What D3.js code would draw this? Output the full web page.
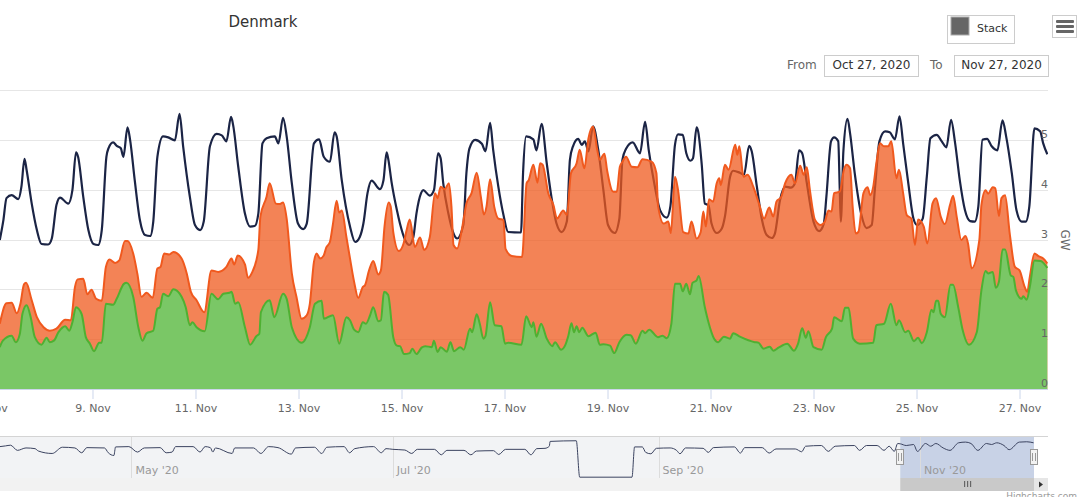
<!DOCTYPE html>
<html>
<head>
<meta charset="UTF-8">
<title>Denmark</title>
<script src="https://cdnjs.cloudflare.com/ajax/libs/d3/7.8.5/d3.min.js"></script>
<style>
html,body{margin:0;padding:0;background:#fff;overflow:hidden}
text{font-family:"DejaVu Sans",sans-serif;font-size:11px;fill:#666}
.grid line{stroke:#e6e6e6}
</style>
</head>
<body>
<div id="chart"></div>
<script>
// [day of November, GW]
var consumption=[[7.20,2.99],[7.27,3.39],[7.33,3.83],[7.43,3.89],[7.56,3.81],[7.62,4.06],[7.68,4.62],[7.72,4.40],[7.82,3.72],[7.92,3.19],[8.01,2.91],[8.14,2.90],[8.21,3.02],[8.30,3.69],[8.37,3.84],[8.53,3.72],[8.61,3.99],[8.68,4.75],[8.72,4.66],[8.82,3.86],[8.92,3.19],[9.02,2.91],[9.11,2.89],[9.18,3.19],[9.27,4.66],[9.31,4.83],[9.40,4.95],[9.47,4.88],[9.55,4.83],[9.60,4.66],[9.68,5.25],[9.73,5.00],[9.82,4.19],[9.92,3.39],[10.02,3.09],[10.12,3.07],[10.18,3.36],[10.26,4.66],[10.37,5.07],[10.47,5.05],[10.60,4.99],[10.69,5.52],[10.76,4.87],[10.89,3.86],[10.99,3.29],[11.09,3.19],[11.16,3.36],[11.28,4.87],[11.41,5.12],[11.51,5.09],[11.60,4.97],[11.69,5.46],[11.73,5.30],[11.83,4.46],[11.96,3.52],[12.06,3.26],[12.15,3.27],[12.22,3.52],[12.30,4.93],[12.38,5.03],[12.54,5.07],[12.61,4.93],[12.70,5.44],[12.77,5.07],[12.87,4.13],[12.99,3.32],[13.09,3.21],[13.16,3.32],[13.30,4.93],[13.40,5.01],[13.49,4.66],[13.61,4.56],[13.70,5.15],[13.74,5.07],[13.84,4.19],[14.00,3.26],[14.10,2.95],[14.19,3.05],[14.26,3.32],[14.34,3.93],[14.42,4.18],[14.58,4.01],[14.65,4.19],[14.71,4.75],[14.74,4.63],[14.81,4.13],[14.91,3.59],[14.97,3.32],[15.07,2.99],[15.15,2.89],[15.23,3.05],[15.29,3.52],[15.38,3.93],[15.42,3.99],[15.55,3.88],[15.63,3.99],[15.71,4.73],[15.76,4.63],[15.81,4.13],[15.91,3.52],[16.01,3.12],[16.08,3.02],[16.20,3.29],[16.26,4.33],[16.32,4.83],[16.43,5.00],[16.56,4.92],[16.63,4.77],[16.72,5.34],[16.78,4.80],[16.88,4.06],[16.98,3.49],[17.07,3.15],[17.32,3.14],[17.36,4.33],[17.42,5.07],[17.56,5.01],[17.62,4.79],[17.72,5.32],[17.82,4.53],[17.91,3.86],[18.01,3.32],[18.11,3.15],[18.21,3.36],[18.27,4.60],[18.33,4.87],[18.43,5.02],[18.50,4.90],[18.56,4.97],[18.63,4.77],[18.72,5.27],[18.82,4.80],[18.92,3.99],[19.01,3.29],[19.14,3.13],[19.23,3.42],[19.29,4.60],[19.36,4.82],[19.49,4.95],[19.63,4.73],[19.73,5.36],[19.80,4.80],[19.92,4.06],[20.02,3.59],[20.15,3.44],[20.22,3.66],[20.31,4.90],[20.37,5.11],[20.46,5.10],[20.53,4.73],[20.61,4.58],[20.66,4.63],[20.73,5.25],[20.76,5.17],[20.83,4.50],[20.89,3.72],[20.96,3.69],[21.02,3.32],[21.12,3.13],[21.22,3.22],[21.28,3.46],[21.38,4.26],[21.44,4.38],[21.57,4.34],[21.65,4.30],[21.75,4.88],[21.80,4.77],[21.90,4.06],[22.00,3.39],[22.09,3.09],[22.19,3.03],[22.25,3.12],[22.35,3.79],[22.45,4.06],[22.56,4.04],[22.64,4.13],[22.72,4.79],[22.78,4.73],[22.87,4.13],[23.00,3.36],[23.11,3.17],[23.20,3.32],[23.25,3.86],[23.34,4.97],[23.40,5.05],[23.48,4.97],[23.51,3.99],[23.53,3.36],[23.58,4.77],[23.66,5.42],[23.71,5.13],[23.80,4.33],[23.93,3.49],[24.03,3.23],[24.13,3.29],[24.19,3.99],[24.28,4.97],[24.39,5.17],[24.48,5.15],[24.58,5.01],[24.67,5.47],[24.74,4.93],[24.84,4.13],[24.94,3.42],[25.01,3.29],[25.12,3.42],[25.20,4.26],[25.27,5.03],[25.39,5.10],[25.49,4.97],[25.58,4.85],[25.67,5.40],[25.75,4.93],[25.84,4.19],[25.94,3.59],[26.04,3.37],[26.13,3.36],[26.20,3.66],[26.28,5.00],[26.37,5.02],[26.46,4.87],[26.57,4.79],[26.67,5.39],[26.74,5.07],[26.85,4.33],[26.94,3.59],[27.04,3.36],[27.12,3.36],[27.19,3.66],[27.29,5.23],[27.40,5.17],[27.46,4.93],[27.54,4.71]];

var total=[[7.20,1.31],[7.33,1.72],[7.43,1.73],[7.53,1.52],[7.60,1.71],[7.67,2.10],[7.71,2.13],[7.82,1.78],[7.92,1.44],[8.05,1.24],[8.17,1.17],[8.30,1.21],[8.47,1.39],[8.58,1.38],[8.66,2.05],[8.71,2.20],[8.82,2.21],[8.90,1.90],[8.98,1.99],[9.07,1.81],[9.18,1.77],[9.26,2.45],[9.33,2.60],[9.44,2.53],[9.52,2.58],[9.63,2.97],[9.68,2.97],[9.79,2.72],[9.87,2.32],[9.95,1.85],[10.05,1.93],[10.17,1.83],[10.26,2.42],[10.32,2.45],[10.39,2.72],[10.49,2.70],[10.57,2.75],[10.73,2.62],[10.83,2.32],[10.91,1.95],[11.02,1.78],[11.17,1.54],[11.31,2.38],[11.44,2.35],[11.60,2.45],[11.70,2.62],[11.75,2.50],[11.82,2.68],[11.96,2.50],[12.02,2.23],[12.09,2.32],[12.22,2.79],[12.26,3.46],[12.38,3.86],[12.44,4.13],[12.56,3.72],[12.63,3.71],[12.70,3.74],[12.77,3.42],[12.87,2.32],[12.96,1.85],[13.06,1.41],[13.16,1.48],[13.22,1.71],[13.30,2.55],[13.35,2.72],[13.42,2.62],[13.49,2.68],[13.54,2.84],[13.61,2.95],[13.67,3.32],[13.74,3.78],[13.79,3.54],[13.84,3.58],[13.93,3.05],[14.00,2.62],[14.08,2.15],[14.16,1.83],[14.25,2.05],[14.29,2.08],[14.37,2.38],[14.45,2.57],[14.55,2.30],[14.60,2.38],[14.67,3.26],[14.75,3.74],[14.79,3.66],[14.84,3.15],[14.95,2.77],[15.04,2.92],[15.10,3.19],[15.16,3.40],[15.26,2.85],[15.36,3.04],[15.44,2.79],[15.55,3.05],[15.65,3.93],[15.70,3.83],[15.76,4.06],[15.84,4.01],[15.92,4.13],[15.97,3.66],[16.01,2.89],[16.08,2.82],[16.17,3.19],[16.26,3.72],[16.36,3.93],[16.46,4.34],[16.54,3.86],[16.60,3.50],[16.65,3.66],[16.72,4.21],[16.80,3.66],[16.88,3.42],[16.98,3.39],[17.02,2.81],[17.14,2.67],[17.34,2.65],[17.43,4.13],[17.47,4.19],[17.56,4.50],[17.64,4.14],[17.69,4.53],[17.74,4.50],[17.85,3.93],[17.95,3.69],[18.02,3.42],[18.14,3.58],[18.21,3.49],[18.29,4.33],[18.40,4.53],[18.46,4.80],[18.55,4.43],[18.63,5.03],[18.72,5.27],[18.80,4.80],[18.85,4.60],[18.94,4.72],[18.99,4.40],[19.11,3.96],[19.18,3.96],[19.24,4.46],[19.29,4.56],[19.36,4.66],[19.47,4.46],[19.58,4.45],[19.68,4.61],[19.86,4.56],[19.95,4.33],[19.98,3.69],[20.09,3.32],[20.18,3.36],[20.23,3.13],[20.31,4.26],[20.37,3.99],[20.47,3.15],[20.57,3.12],[20.63,3.36],[20.73,3.02],[20.81,3.15],[20.86,3.56],[20.91,3.26],[20.97,3.81],[21.05,3.76],[21.12,4.13],[21.17,4.23],[21.20,4.09],[21.28,4.50],[21.35,4.40],[21.48,4.90],[21.52,4.70],[21.56,4.87],[21.64,4.26],[21.72,4.30],[21.83,4.06],[21.95,3.69],[22.04,3.42],[22.14,3.64],[22.22,3.46],[22.28,3.76],[22.37,3.85],[22.45,4.13],[22.57,4.30],[22.64,4.13],[22.74,4.48],[22.81,4.30],[22.87,4.45],[22.93,3.99],[23.03,3.39],[23.14,3.29],[23.22,3.36],[23.29,3.58],[23.35,3.56],[23.40,3.93],[23.51,3.96],[23.59,4.40],[23.64,4.50],[23.71,4.43],[23.76,3.66],[23.82,3.12],[23.87,3.15],[23.97,3.93],[24.05,4.05],[24.10,3.89],[24.16,4.06],[24.22,4.53],[24.29,4.93],[24.37,4.87],[24.45,4.87],[24.51,4.97],[24.61,4.23],[24.66,4.40],[24.74,3.93],[24.81,3.49],[24.90,3.42],[24.97,2.89],[25.03,3.40],[25.14,3.26],[25.21,2.92],[25.31,3.72],[25.38,3.83],[25.47,3.46],[25.55,3.31],[25.65,3.69],[25.71,3.88],[25.78,3.46],[25.87,2.99],[25.95,3.07],[26.00,2.92],[26.07,2.42],[26.22,2.99],[26.26,3.69],[26.34,3.99],[26.39,3.92],[26.48,4.05],[26.53,4.03],[26.60,3.47],[26.65,3.83],[26.72,3.89],[26.81,3.12],[26.91,2.45],[27.00,2.38],[27.10,2.05],[27.15,1.95],[27.20,2.25],[27.29,2.72],[27.36,2.67],[27.46,2.62],[27.54,2.52]];

var wind=[[7.20,0.84],[7.26,0.97],[7.43,1.07],[7.51,0.94],[7.59,1.11],[7.64,1.51],[7.72,1.68],[7.80,1.44],[7.88,1.04],[8.01,0.89],[8.11,1.03],[8.17,0.94],[8.25,0.97],[8.34,1.14],[8.47,1.26],[8.55,1.17],[8.61,1.34],[8.68,1.64],[8.79,1.50],[8.87,1.04],[8.95,0.91],[9.03,0.76],[9.13,0.93],[9.18,0.93],[9.26,1.71],[9.40,1.69],[9.47,1.81],[9.61,2.11],[9.66,2.13],[9.79,1.85],[9.89,1.24],[9.97,0.97],[10.05,1.12],[10.18,1.17],[10.26,1.61],[10.31,1.64],[10.37,1.91],[10.47,1.86],[10.57,2.00],[10.73,1.85],[10.81,1.64],[10.89,1.28],[10.94,1.34],[11.02,1.24],[11.18,1.16],[11.31,1.91],[11.44,1.80],[11.54,1.91],[11.66,1.93],[11.70,1.95],[11.77,1.71],[11.83,1.74],[11.96,1.24],[12.06,0.89],[12.19,1.07],[12.24,1.11],[12.27,1.54],[12.44,1.78],[12.53,1.44],[12.70,1.91],[12.77,1.81],[12.87,1.24],[13.06,0.93],[13.22,1.24],[13.32,1.71],[13.45,1.77],[13.49,1.41],[13.67,1.48],[13.79,0.91],[13.93,1.44],[14.00,1.38],[14.08,1.19],[14.16,1.14],[14.25,1.34],[14.31,1.31],[14.39,1.48],[14.45,1.64],[14.55,1.36],[14.60,1.38],[14.66,1.95],[14.74,1.89],[14.84,1.04],[14.91,0.87],[14.97,0.86],[15.05,0.70],[15.16,0.72],[15.21,0.81],[15.29,0.70],[15.39,0.83],[15.46,0.86],[15.59,0.84],[15.63,0.97],[15.70,0.74],[15.76,0.84],[15.88,0.75],[15.95,0.94],[16.02,0.76],[16.14,0.84],[16.21,0.79],[16.33,1.21],[16.37,1.14],[16.46,1.50],[16.52,1.31],[16.59,1.01],[16.63,1.06],[16.72,1.74],[16.81,1.28],[16.94,1.26],[17.01,0.91],[17.07,0.93],[17.33,0.89],[17.42,1.46],[17.53,1.24],[17.56,1.34],[17.62,1.05],[17.71,1.31],[17.82,1.01],[17.93,0.86],[17.98,0.94],[18.10,0.79],[18.17,0.86],[18.24,1.07],[18.30,1.32],[18.35,1.14],[18.40,1.26],[18.45,1.14],[18.51,1.23],[18.63,1.06],[18.77,1.13],[18.85,0.89],[18.92,0.90],[19.05,0.87],[19.13,0.72],[19.23,0.94],[19.37,1.09],[19.45,1.08],[19.55,0.91],[19.68,1.17],[19.73,1.12],[19.81,1.19],[19.98,1.04],[20.07,1.07],[20.15,1.02],[20.24,1.31],[20.31,2.11],[20.41,2.11],[20.46,1.96],[20.53,2.11],[20.60,1.90],[20.65,2.13],[20.73,2.18],[20.77,2.27],[20.89,1.64],[20.96,1.34],[21.07,1.01],[21.15,0.94],[21.26,1.05],[21.38,1.01],[21.44,1.12],[21.57,1.05],[21.86,0.94],[21.93,0.93],[22.03,0.81],[22.15,0.85],[22.22,0.77],[22.32,0.83],[22.49,0.91],[22.62,0.77],[22.70,0.91],[22.78,1.22],[22.85,1.03],[22.90,1.16],[23.00,0.84],[23.16,0.79],[23.24,1.04],[23.36,1.21],[23.40,1.44],[23.55,1.36],[23.61,1.63],[23.68,1.63],[23.77,1.01],[23.90,0.91],[24.16,0.93],[24.22,1.28],[24.37,1.31],[24.50,1.71],[24.61,1.28],[24.66,1.38],[24.78,1.14],[24.84,1.17],[24.95,0.96],[25.03,1.03],[25.10,0.92],[25.20,1.14],[25.29,1.59],[25.33,1.54],[25.38,1.77],[25.42,1.77],[25.47,1.51],[25.55,1.44],[25.66,2.09],[25.71,2.09],[25.81,1.64],[25.89,1.21],[26.02,0.89],[26.17,1.14],[26.26,1.98],[26.34,2.37],[26.39,2.32],[26.48,2.35],[26.54,2.03],[26.60,2.15],[26.67,2.80],[26.72,2.80],[26.83,2.28],[26.88,2.25],[26.93,1.98],[27.04,1.81],[27.07,1.86],[27.14,1.79],[27.20,2.05],[27.29,2.58],[27.41,2.57],[27.54,2.43]];

// navigator overview, [days after 1 May 2020, GW]
var overview=[[-30.7,4.86],[-29.4,4.97],[-28.2,5.08],[-26.6,4.27],[-24.6,4.65],[-22.5,4.54],[-21.7,4.16],[-18.5,3.78],[-16.1,4.76],[-13.2,4.65],[-11.6,3.89],[-10.4,4.70],[-6.3,4.65],[-5.4,3.89],[-4.1,3.46],[-3.7,4.81],[-0.6,4.86],[1.4,4.00],[3.0,4.65],[6.7,4.70],[8.1,3.89],[9.5,4.00],[10.3,4.86],[14.4,4.86],[16.0,4.00],[17.2,4.86],[18.4,4.70],[19.0,4.00],[19.6,4.65],[23.5,3.78],[24.1,4.65],[28.5,4.65],[30.2,3.78],[32.0,4.86],[34.2,4.70],[37.3,3.68],[38.3,4.65],[42.7,4.76],[44.4,3.78],[45.6,4.76],[49.6,4.86],[50.9,3.89],[52.1,4.54],[56.5,4.86],[58.3,3.89],[59.4,4.54],[61,4.43],[63.8,4.32],[65.4,3.78],[66.7,4.43],[70.7,4.43],[72.3,3.57],[73.6,4.27],[77.6,4.27],[79.2,3.57],[80.5,4.16],[84.5,4.22],[85.7,3.62],[87.3,4.43],[91.8,4.43],[93.2,3.57],[94.6,4.54],[96.5,4.59],[97.5,4.92],[97.7,5.68],[103.8,5.78],[104.6,0.05],[116.8,0.05],[117.4,4.81],[119.2,4.81],[120,3.95],[121.2,3.73],[122.5,4.59],[125.7,4.65],[127.2,4.27],[128,3.73],[129.3,4.65],[133.4,4.59],[134.6,3.95],[135.8,4.70],[140.7,4.81],[142.1,3.84],[143.1,4.70],[147.2,4.70],[148.8,3.84],[150.4,4.49],[154.9,4.49],[156.4,4.05],[157.3,4.92],[161,5.03],[162.6,4.11],[164.2,4.92],[168.7,5.03],[169.9,4.27],[171.5,5.03],[174,5.03],[175.6,4.27],[176.8,4.92],[178,4.11],[178.8,5.35],[179.4,5.30],[180.8,5.03],[182.5,5.19],[183.4,4.11],[185.3,5.35],[186.5,4.92],[187.7,5.35],[189.4,4.65],[191,4.27],[193,5.46],[194.6,5.57],[195.9,5.35],[197.5,4.27],[199.5,5.35],[200.7,5.19],[201.9,5.46],[203.6,5.03],[204.8,4.38],[207.2,5.57],[208.9,5.62],[210.5,5.46]];

var dayTicks=[7,9,11,13,15,17,19,21,23,25,27];
var gwTicks=[0,1,2,3,4,5,6];
var navTickDays=[0,61,123,184];
var navTickLabels=["May '20","Jul '20","Sep '20","Nov '20"];

var W=1090,H=497;
var svg=d3.select("#chart").append("svg").attr("width",W).attr("height",H).style("display","block");

var x=d3.scaleLinear().domain([7.204,27.553]).range([0,1048]);
var y=d3.scaleLinear().domain([0,6]).range([389,90]);

// grid + axes
var grid=svg.append("g").attr("class","grid");
grid.selectAll("line").data(gwTicks).enter().append("line")
  .attr("x1",0).attr("x2",1048).attr("y1",function(d){return Math.round(y(d))+0.5;}).attr("y2",function(d){return Math.round(y(d))+0.5;});

svg.append("text").attr("x",263).attr("y",27).attr("text-anchor","middle")
  .style("font-size","15px").style("fill","#333").text("Denmark");

var line=d3.line().x(function(d){return x(d[0]);}).y(function(d){return y(d[1]);}).curve(d3.curveMonotoneX);
var area=d3.area().x(function(d){return x(d[0]);}).y0(y(0)).y1(function(d){return y(d[1]);}).curve(d3.curveMonotoneX);

svg.append("defs").append("clipPath").attr("id","plot").append("rect").attr("x",0).attr("y",80).attr("width",1048).attr("height",309);
var plot=svg.append("g").attr("clip-path","url(#plot)");

plot.append("path").datum(consumption).attr("d",line).attr("fill","none").attr("stroke","#1b2445").attr("stroke-width",2.2);
plot.append("path").datum(total).attr("d",area).attr("fill","#ef5a1e").attr("fill-opacity",0.75);
plot.append("path").datum(total).attr("d",line).attr("fill","none").attr("stroke","#f0591e").attr("stroke-width",2);
plot.append("path").datum(wind).attr("d",area).attr("fill","#7ac766");
plot.append("path").datum(wind).attr("d",line).attr("fill","none").attr("stroke","#4fb032").attr("stroke-width",2);

var xAxis=d3.axisBottom(x).tickValues(dayTicks).tickSize(10).tickPadding(5).tickFormat(function(d){return d+". Nov";});
var gx=svg.append("g").attr("transform","translate(0,389)").call(xAxis);
gx.select(".domain").remove();
gx.append("line").attr("x1",0).attr("x2",1048).attr("y1",0.5).attr("y2",0.5).attr("stroke","#ccd6eb");
gx.selectAll(".tick line").attr("stroke","#ccd6eb");
gx.selectAll("text").attr("fill",null);
gx.attr("font-family",null).attr("font-size",null);

svg.append("g").selectAll("text").data(gwTicks.slice(0,6)).enter().append("text")
  .attr("x",1048).attr("y",function(d){return y(d)-2;}).attr("text-anchor","end").text(function(d){return d;});
svg.append("text").attr("transform","translate(1061,240) rotate(90)").attr("text-anchor","middle").style("font-size","12px").text("GW");

// stack button
svg.append("rect").attr("x",947.5).attr("y",15.5).attr("width",67).attr("height",28).attr("fill","#fff").attr("stroke","#ccc");
svg.append("rect").attr("x",951).attr("y",17).attr("width",18).attr("height",18).attr("fill","#666").attr("stroke","#aaa");
svg.append("text").attr("x",977).attr("y",32).style("fill","#333").text("Stack");

// menu button
svg.append("rect").attr("x",1052.5).attr("y",15.5).attr("width",24).attr("height",22).attr("fill","#fff").attr("stroke","#ccc");
svg.append("g").selectAll("rect").data([20,25,30]).enter().append("rect")
  .attr("x",1056).attr("y",function(d){return d;}).attr("width",18).attr("height",3).attr("rx",1).attr("fill","#666");

// range inputs
svg.append("text").attr("x",787).attr("y",69).style("font-size","12px").text("From");
svg.append("rect").attr("x",824.5).attr("y",55.5).attr("width",94).attr("height",21).attr("fill","#fff").attr("stroke","#ccc");
svg.append("text").attr("x",871.5).attr("y",69).attr("text-anchor","middle").style("font-size","12px").style("fill","#333").text("Oct 27, 2020");
svg.append("text").attr("x",930).attr("y",69).style("font-size","12px").text("To");
svg.append("rect").attr("x",954.5).attr("y",55.5).attr("width",94).attr("height",21).attr("fill","#fff").attr("stroke","#ccc");
svg.append("text").attr("x",1001.5).attr("y",69).attr("text-anchor","middle").style("font-size","12px").style("fill","#333").text("Nov 27, 2020");

// navigator
var nx=d3.scaleLinear().domain([-30.67,210.6]).range([0,1034]);
var ny=d3.scaleLinear().domain([0,5.9]).range([477.5,440]);
var selStart=179.4,selEnd=210.6;

svg.append("rect").attr("x",0).attr("y",437).attr("width",1034).attr("height",41).attr("fill","#f2f3f5");
svg.append("rect").attr("x",nx(selStart)).attr("y",437).attr("width",nx(selEnd)-nx(selStart)).attr("height",41).attr("fill","#c8d2e6");
svg.append("line").attr("x1",0).attr("x2",1048).attr("y1",436.5).attr("y2",436.5).attr("stroke","#d4d4d4");

svg.append("g").selectAll("line").data(navTickDays).enter().append("line")
  .attr("x1",function(d){return Math.round(nx(d))+0.5;}).attr("x2",function(d){return Math.round(nx(d))+0.5;})
  .attr("y1",437).attr("y2",478).attr("stroke","#dcdcdc");
svg.append("g").selectAll("text").data(navTickDays).enter().append("text")
  .attr("x",function(d){return nx(d)+4;}).attr("y",474).style("fill","#999")
  .text(function(d,i){return navTickLabels[i];});

svg.append("path").datum(overview).attr("fill","none").attr("stroke","#3b4360").attr("stroke-width",1)
  .attr("d",d3.line().x(function(d){return nx(d[0]);}).y(function(d){return ny(d[1]);}).curve(d3.curveMonotoneX));

// scrollbar
svg.append("rect").attr("x",0).attr("y",478).attr("width",1048).attr("height",13).attr("fill","#f2f2f2");
svg.append("rect").attr("x",nx(selStart)).attr("y",478).attr("width",nx(selEnd)-nx(selStart)).attr("height",13).attr("fill","#c9c9c9");
svg.append("g").selectAll("rect").data([-3,0,3]).enter().append("rect")
  .attr("x",function(d){return (nx(selStart)+nx(selEnd))/2+d;}).attr("y",481).attr("width",1).attr("height",6).attr("fill","#555");
svg.append("rect").attr("x",1034).attr("y",478).attr("width",14).attr("height",13).attr("fill","#e6e6e6");
svg.append("path").attr("d","M1039 481.5L1043 484.5L1039 487.5Z").attr("fill","#333");

// handles
[selStart,selEnd].forEach(function(s){
  var hx=Math.round(nx(s));
  svg.append("rect").attr("x",hx-3.5).attr("y",449.5).attr("width",7).attr("height",15).attr("fill","#f2f2f2").attr("stroke","#999");
  svg.append("line").attr("x1",hx-1.5).attr("x2",hx-1.5).attr("y1",453).attr("y2",461).attr("stroke","#999");
  svg.append("line").attr("x1",hx+1.5).attr("x2",hx+1.5).attr("y1",453).attr("y2",461).attr("stroke","#999");
});

svg.append("text").attr("x",1077).attr("y",499).attr("text-anchor","end").style("font-size","9px").style("fill","#999").text("Highcharts.com");
</script>
</body>
</html>
